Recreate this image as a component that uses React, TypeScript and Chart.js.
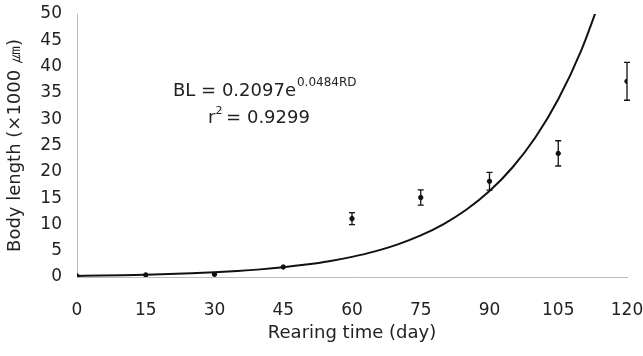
import React, { useEffect, useRef } from "react";
import { Chart, registerables } from "chart.js";

Chart.register(...registerables);

// Observed body length (x1000 µm) by rearing day
const days = [0, 15, 30, 45, 60, 75, 90, 105, 120];
const meanLength = [0.2, 0.4, 0.5, 1.9, 11.1, 15.1, 18.2, 23.5, 37.2];
const sdLength = [0.05, 0.05, 0.1, 0.2, 1.15, 1.45, 1.7, 2.4, 3.6];

// Fitted curve values (BL = 0.2097e^0.0484RD)
const curveDays = [0, 5, 10, 15, 20, 25, 30, 35, 40, 45, 50, 55, 60, 65, 70, 75, 80, 85, 90, 95, 100, 105, 110, 115];
const curveLength = [0.21, 0.27, 0.34, 0.43, 0.55, 0.70, 0.90, 1.14, 1.45, 1.85, 2.36, 3.0, 3.83, 4.87, 6.21, 7.91, 10.07, 12.83, 16.34, 20.82, 26.52, 33.79, 43.04, 54.8];

const xTicks = [0, 15, 30, 45, 60, 75, 90, 105, 120];
const yTicks = [0, 5, 10, 15, 20, 25, 30, 35, 40, 45, 50];

const FONT = "'DejaVu Sans', 'Liberation Sans', sans-serif";
const TEXT = "#222";

const errorBarPlugin = {
  id: "errorBars",
  afterDatasetsDraw(chart: any) {
    const { ctx, scales } = chart;
    const xs = scales.x;
    const ys = scales.y;
    ctx.save();
    ctx.strokeStyle = "#111";
    ctx.lineWidth = 1.3;
    days.forEach((d, i) => {
      const sd = sdLength[i];
      if (sd < 0.3) return;
      const px = xs.getPixelForValue(d);
      const top = ys.getPixelForValue(meanLength[i] + sd);
      const bot = ys.getPixelForValue(meanLength[i] - sd);
      ctx.beginPath();
      ctx.moveTo(px, top);
      ctx.lineTo(px, bot);
      ctx.moveTo(px - 3, top);
      ctx.lineTo(px + 3, top);
      ctx.moveTo(px - 3, bot);
      ctx.lineTo(px + 3, bot);
      ctx.stroke();
    });
    ctx.restore();
  },
};

const annotationPlugin = {
  id: "equation",
  afterDraw(chart: any) {
    const { ctx } = chart;
    ctx.save();
    ctx.fillStyle = TEXT;
    ctx.textBaseline = "alphabetic";
    ctx.textAlign = "left";
    ctx.font = `18px ${FONT}`;
    const main = "BL = 0.2097e";
    const x0 = 173;
    const y0 = 96;
    ctx.fillText(main, x0, y0);
    const w = ctx.measureText(main).width;
    ctx.font = `12px ${FONT}`;
    ctx.fillText("0.0484RD", x0 + w + 1, y0 - 10);
    ctx.font = `18px ${FONT}`;
    const x1 = 208;
    const y1 = 123;
    ctx.fillText("r", x1, y1);
    const rw = ctx.measureText("r").width;
    ctx.font = `11px ${FONT}`;
    ctx.fillText("2", x1 + rw, y1 - 9);
    ctx.font = `18px ${FONT}`;
    ctx.fillText(" = 0.9299", x1 + rw + 5, y1);
    ctx.restore();
  },
};

export default function App() {
  const canvasRef = useRef<HTMLCanvasElement | null>(null);

  useEffect(() => {
    document.body.style.margin = "0";
    const canvas = canvasRef.current;
    if (!canvas) return;
    const chart = new Chart(canvas, {
      type: "scatter",
      data: {
        datasets: [
          {
            label: "Fitted",
            data: curveDays.map((d, i) => ({ x: d, y: curveLength[i] })),
            showLine: true,
            borderColor: "#111",
            borderWidth: 2,
            pointRadius: 0,
            cubicInterpolationMode: "monotone",
            order: 2,
          } as any,
          {
            label: "Observed",
            data: days.map((d, i) => ({ x: d, y: meanLength[i] })),
            backgroundColor: "#111",
            borderColor: "#111",
            pointRadius: 2.2,
            pointHoverRadius: 2.2,
            order: 1,
          },
        ],
      },
      options: {
        animation: false,
        responsive: false,
        maintainAspectRatio: false,
        layout: { padding: { top: 14, right: 16, left: 0, bottom: 0 } },
        plugins: {
          legend: { display: false },
          tooltip: { enabled: false },
        },
        scales: {
          x: {
            type: "linear",
            min: 0,
            max: 120,
            afterBuildTicks: (s: any) => {
              s.ticks = xTicks.map((v) => ({ value: v }));
            },
            afterFit: (s: any) => {
              s.height = 79;
              s.paddingLeft = 0;
              s.paddingRight = 0;
            },
            grid: { display: false, drawTicks: false },
            border: { display: true, color: "#bbb", width: 1, dash: [6, 3] },
            ticks: {
              color: TEXT,
              padding: 23,
              font: { family: FONT, size: 17 },
              maxRotation: 0,
            },
            title: {
              display: true,
              text: "Rearing time (day)",
              color: TEXT,
              font: { family: FONT, size: 18 },
              padding: { top: 4, bottom: 12 },
            },
          },
          y: {
            type: "linear",
            min: 0,
            max: 50,
            afterBuildTicks: (s: any) => {
              s.ticks = yTicks.map((v) => ({ value: v }));
            },
            afterFit: (s: any) => {
              s.width = 77;
              s.paddingTop = 0;
              s.paddingBottom = 0;
            },
            grid: { display: false, drawTicks: false },
            border: { display: true, color: "#bbb", width: 1, dash: [4, 4] },
            ticks: {
              color: TEXT,
              padding: 15,
              font: { family: FONT, size: 17 },
            },
            title: {
              display: true,
              text: "Body length (×1000 ㎛)",
              color: TEXT,
              font: { family: FONT, size: 18 },
              padding: { top: 5, bottom: 0 },
            },
          },
        },
      },
      plugins: [errorBarPlugin, annotationPlugin],
    });
    return () => chart.destroy();
  }, []);

  return (
    <div style={{ width: 643, height: 356, background: "#fff" }}>
      <canvas ref={canvasRef} width={643} height={356} style={{ display: "block" }} />
    </div>
  );
}
